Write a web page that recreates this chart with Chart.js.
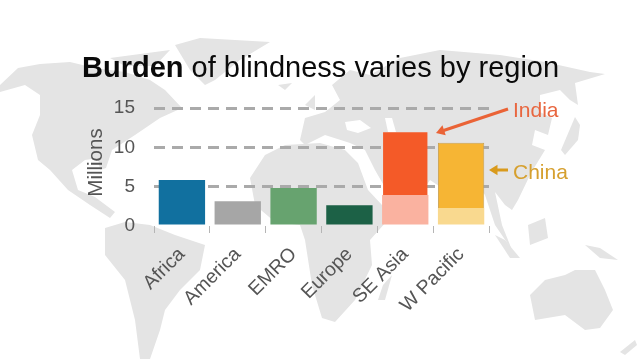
<!doctype html>
<html>

<head>
	<title>Burden of blindness</title>
	<meta charset=utf-8>
	<script src="https://cdn.jsdelivr.net/npm/chart.js@4"></script>
	<style>
		html, body { margin: 0; padding: 0; background: #fff; overflow: hidden; }
		canvas { display: block; }
	</style>
</head>

<body>
	<canvas id="chart-area" width="638" height="359"></canvas>

	<script>
		var regions = ['Africa', 'America', 'EMRO', 'Europe', 'SE Asia', 'W Pacific'];
		// millions; for SE Asia and W Pacific the lower part is the rest of the region
		var lowerValues = [5.86, 3.15, 4.83, 2.64, 3.93, 2.29];
		var upperValues = [0, 0, 0, 0, 8.1, 8.29];
		var lowerColors = ['#11709f', '#a6a6a6', '#67a36f', '#1c6146', '#fab2a0', '#f9d98f'];
		var upperColors = ['#11709f', '#a6a6a6', '#67a36f', '#1c6146', '#f45a28', '#f6b534'];

		// rough outlines for the backdrop map, in page pixels
		var land = [
			[[0,85],[18,68],[40,64],[70,62],[95,68],[125,72],[150,80],[165,90],[182,108],[160,118],[135,135],[112,150],[106,168],[100,170],[98,158],[85,160],[72,170],[78,190],[95,197],[115,212],[110,218],[90,205],[68,190],[50,170],[38,160],[32,135],[40,115],[40,95],[25,85],[0,92]],
			[[105,228],[125,222],[150,225],[175,235],[205,245],[200,270],[180,290],[165,310],[160,330],[150,359],[140,359],[135,320],[125,280],[105,255]],
			[[175,45],[200,38],[270,42],[240,60],[215,80],[205,85],[190,70]],
			[[110,58],[170,50],[155,66],[125,66]],
			[[250,178],[265,155],[285,145],[320,143],[345,150],[358,163],[368,190],[382,205],[395,212],[370,240],[372,265],[355,300],[335,322],[322,318],[312,285],[305,240],[300,225],[275,222],[255,205]],
			[[300,140],[305,118],[325,112],[340,100],[332,85],[350,70],[370,75],[400,58],[440,50],[500,55],[545,62],[590,72],[605,74],[575,83],[578,105],[570,100],[560,90],[540,95],[540,112],[552,118],[548,135],[535,130],[532,145],[545,150],[531,173],[518,200],[512,210],[505,205],[495,192],[502,225],[512,250],[495,225],[485,195],[470,175],[455,215],[445,190],[430,180],[420,195],[395,205],[375,170],[365,150],[350,143],[325,135],[305,145]],
			[[561,150],[575,117],[580,125],[578,140],[565,155]],
			[[528,225],[545,218],[548,238],[530,245]],
			[[585,245],[600,248],[618,260],[600,258]],
			[[495,235],[505,240],[520,258],[510,258]],
			[[530,295],[545,280],[565,275],[575,270],[595,270],[605,290],[613,310],[600,328],[585,330],[565,315],[535,320]],
			[[620,352],[635,340],[637,345],[625,355]],
			[[383,285],[392,275],[385,300],[378,300]],
			[[305,105],[315,95],[315,110]],
			[[278,85],[292,83],[285,90]]
		];
		var seas = [
			[[345,122],[360,120],[371,128],[358,133],[347,130]],
			[[385,118],[392,118],[396,132],[388,132]]
		];

		function fillShapes(ctx, shapes, color) {
			ctx.fillStyle = color;
			shapes.forEach(function(shape) {
				ctx.beginPath();
				shape.forEach(function(p, i) {
					if (i == 0) ctx.moveTo(p[0], p[1]);
					else ctx.lineTo(p[0], p[1]);
				});
				ctx.closePath();
				ctx.fill();
			});
		}

		var backdrop = {
			id: 'backdrop',
			beforeDraw: function(chart) {
				var ctx = chart.ctx;
				ctx.save();
				fillShapes(ctx, land, '#e4e4e4');
				fillShapes(ctx, seas, '#ffffff');
				ctx.restore();
			}
		};

		function arrow(ctx, x1, y1, x2, y2, color) {
			var a = Math.atan2(y2 - y1, x2 - x1);
			ctx.strokeStyle = color;
			ctx.fillStyle = color;
			ctx.lineWidth = 3;
			ctx.beginPath();
			ctx.moveTo(x1, y1);
			ctx.lineTo(x2 - 8 * Math.cos(a), y2 - 8 * Math.sin(a));
			ctx.stroke();
			ctx.beginPath();
			ctx.moveTo(x2, y2);
			ctx.lineTo(x2 - 10 * Math.cos(a - 0.55), y2 - 10 * Math.sin(a - 0.55));
			ctx.lineTo(x2 - 10 * Math.cos(a + 0.55), y2 - 10 * Math.sin(a + 0.55));
			ctx.closePath();
			ctx.fill();
		}

		var notes = {
			id: 'notes',
			afterDraw: function(chart) {
				var ctx = chart.ctx;
				ctx.save();
				ctx.textBaseline = 'alphabetic';
				ctx.textAlign = 'left';

				// title, first word bold
				ctx.fillStyle = '#0a0a0a';
				ctx.font = 'bold 29px "Liberation Sans"';
				ctx.fillText('Burden', 82, 77);
				var w = ctx.measureText('Burden').width;
				ctx.font = '29px "Liberation Sans"';
				ctx.fillText(' of blindness varies by region', 82 + w, 77);

				ctx.font = '21px "Liberation Sans"';
				ctx.fillStyle = '#e8663f';
				ctx.fillText('India', 513, 117);
				ctx.fillStyle = '#d6a02f';
				ctx.fillText('China', 513, 179);

				arrow(ctx, 508, 109, 436, 133, '#ea6336');
				arrow(ctx, 508, 170, 489, 170, '#d99a1c');

				// axis title sits a little above the middle of the axis
				ctx.save();
				ctx.translate(102, 162.5);
				ctx.rotate(-Math.PI / 2);
				ctx.textAlign = 'center';
				ctx.fillStyle = '#555';
				ctx.font = '20.5px "Liberation Sans"';
				ctx.fillText('Millions', 0, 0);
				ctx.restore();
				ctx.restore();
			}
		};

		var config = {
			type: 'bar',
			data: {
				labels: regions,
				datasets: [
					{ label: 'Rest', data: lowerValues, backgroundColor: lowerColors },
					{
						label: 'India / China',
						data: upperValues,
						backgroundColor: upperColors,
						borderColor: ['transparent', 'transparent', 'transparent', 'transparent', 'transparent', '#c9a253'],
						borderWidth: 1
					}
				]
			},
			options: {
				responsive: false,
				animation: false,
				barPercentage: 0.83,
				categoryPercentage: 1,
				layout: { padding: { left: 85, right: 149, top: 108, bottom: 0 } },
				plugins: { legend: { display: false }, tooltip: { enabled: false } },
				scales: {
					x: {
						stacked: true,
						afterFit: function(scale) { scale.height = 133; },
						border: { display: false },
						grid: { drawOnChartArea: false, color: '#b5b5b5', lineWidth: 1, tickLength: 7 },
						ticks: { minRotation: 45, maxRotation: 45, color: '#555', font: { family: 'Liberation Sans', size: 19.5 }, padding: 10 }
					},
					y: {
						stacked: true,
						min: 0,
						max: 15,
						afterFit: function(scale) { scale.width = 69; },
						border: { display: false, dash: [11, 7] },
						grid: {
							color: function(c) { return c.tick.value == 0 ? 'rgba(0,0,0,0)' : '#aaa'; },
							lineWidth: 3,
							drawTicks: false
						},
						ticks: { stepSize: 5, color: '#555', font: { family: 'Liberation Sans', size: 19 }, padding: 19 }
					}
				}
			},
			plugins: [backdrop, notes]
		};

		window.onload = function() {
			var ctx = document.getElementById('chart-area').getContext('2d');
			window.myBar = new Chart(ctx, config);
		};
	</script>
</body>
</html>
